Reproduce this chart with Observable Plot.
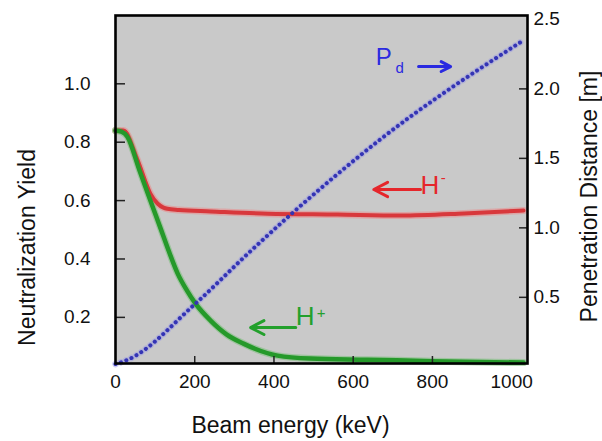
<!DOCTYPE html>
<html><head><meta charset="utf-8">
<script src="https://cdn.jsdelivr.net/npm/d3@7"></script>
<script src="https://cdn.jsdelivr.net/npm/@observablehq/plot@0.6"></script>
<style>body{margin:0;background:#fff}</style>
</head><body><div id="chart"></div>
<script>
// ---- data ----
const energyHminus = [0, 20, 56, 88, 106, 121, 131, 160, 240, 384, 560, 720, 880, 1030];
const yieldHminus  = [0.84, 0.84, 0.737, 0.624, 0.59, 0.576, 0.572, 0.568, 0.563, 0.555, 0.552, 0.549, 0.556, 0.566];
const energyHplus  = [0, 15, 30, 60, 88, 114, 134, 157, 179, 202, 240, 280, 323, 409, 492, 636, 800, 1030];
const yieldHplus   = [0.84, 0.836, 0.819, 0.706, 0.60, 0.504, 0.429, 0.35, 0.295, 0.247, 0.189, 0.142, 0.110, 0.069, 0.059, 0.055, 0.05, 0.045];
const energyPd     = [0, 30, 200, 340, 440, 670, 1030];
const distPd       = [0.02, 0.05, 0.45, 0.83, 1.09, 1.64, 2.35];

const xTicks = [0, 200, 400, 600, 800, 1000];
const xInnerTicks = [200, 400, 600, 800];
const yLeftTicks = [0.2, 0.4, 0.6, 0.8, 1.0];
const yRightTicks = [0.5, 1.0, 1.5, 2.0, 2.5];
const yRightInnerTicks = [0.5, 1.0, 1.5, 2.0];

const xTitle = "Beam energy (keV)";
const yLeftTitle = "Neutralization Yield";
const yRightTitle = "Penetration Distance [m]";

// ---- layout / styles ----
const W = 602, H = 441;
const marginLeft = 115, marginRight = 75, marginTop = 15, marginBottom = 78;
const xDomain = [0, 1040];
const yLeftDomain = [0.042, 1.234];
const yRightDomain = [0.024, 2.528];
const toLeft = p => yLeftDomain[0] + (p - yRightDomain[0]) * (yLeftDomain[1] - yLeftDomain[0]) / (yRightDomain[1] - yRightDomain[0]);
const fromLeft = v => yRightDomain[0] + (v - yLeftDomain[0]) * (yRightDomain[1] - yRightDomain[0]) / (yLeftDomain[1] - yLeftDomain[0]);
const pxPerX = (W - marginLeft - marginRight) / (xDomain[1] - xDomain[0]);
const pxPerY = (H - marginTop - marginBottom) / (yLeftDomain[1] - yLeftDomain[0]);

const RED = "#d8383c", GREEN = "#25992a", BLUE = "#3434b4";
const TXT_RED = "#e5262b", TXT_GREEN = "#23a02c", TXT_BLUE = "#2a2ae0";

const hminus = energyHminus.map((e, i) => ({energy: e, value: yieldHminus[i]}));
const hplus = energyHplus.map((e, i) => ({energy: e, value: yieldHplus[i]}));
const pd = energyPd.map((e, i) => ({energy: e, value: distPd[i]}));

const annotations = [
  {text: "P", x: 657, y: 1.09, color: TXT_BLUE, size: 24},
  {text: "d", x: 707, y: 1.052, color: TXT_BLUE, size: 15},
  {text: "H", x: 770, y: 0.651, color: TXT_RED, size: 26},
  {text: "-", x: 821, y: 0.678, color: TXT_RED, size: 15},
  {text: "H", x: 455, y: 0.203, color: TXT_GREEN, size: 26},
  {text: "+", x: 508, y: 0.215, color: TXT_GREEN, size: 15}
];
const arrows = [
  {x1: 765, x2: 846, y: 1.059, color: TXT_BLUE},
  {x1: 770, x2: 652, y: 0.638, color: TXT_RED},
  {x1: 455, x2: 341, y: 0.165, color: TXT_GREEN}
];

const font = "'Liberation Sans', Arial, sans-serif";

const chart = Plot.plot({
  width: W, height: H,
  marginLeft, marginRight, marginTop, marginBottom,
  style: {fontFamily: font, color: "#111", background: "#fff"},
  x: {domain: xDomain},
  y: {domain: yLeftDomain},
  marks: [
    Plot.frame({fill: "#c9c9c9"}),
    // halos
    Plot.line(pd, {x: "energy", y: d => toLeft(d.value), stroke: "#9a9ae6", strokeOpacity: 0.5, strokeWidth: 6.5, strokeDasharray: "0.1 5.6", strokeLinecap: "round", curve: "monotone-x"}),
    Plot.line(hminus, {x: "energy", y: "value", stroke: "#e89090", strokeOpacity: 0.6, strokeWidth: 7, curve: "monotone-x"}),
    Plot.line(hplus, {x: "energy", y: "value", stroke: "#80c080", strokeOpacity: 0.6, strokeWidth: 7, curve: "monotone-x"}),
    // lines
    Plot.line(hminus, {x: "energy", y: "value", stroke: RED, strokeWidth: 4, curve: "monotone-x"}),
    Plot.line(hplus, {x: "energy", y: "value", stroke: GREEN, strokeWidth: 4.5, curve: "monotone-x"}),
    Plot.line(pd, {x: "energy", y: d => toLeft(d.value), stroke: BLUE, strokeWidth: 4, strokeDasharray: "0.1 5.6", strokeLinecap: "round", curve: "monotone-x"}),
    // annotations
    ...arrows.map(a => Plot.arrow([a], {x1: "x1", x2: "x2", y1: "y", y2: "y", stroke: a.color, strokeWidth: 3, headLength: 9, headAngle: 55})),
    ...annotations.map(a => Plot.text([a], {x: "x", y: "y", text: "text", fill: a.color, fontSize: a.size, textAnchor: "start", lineAnchor: "middle"})),
    // inner tick marks
    Plot.ruleX(xInnerTicks, {x: d => d, y1: yLeftDomain[0], y2: yLeftDomain[0] + 7 / pxPerY, stroke: "#222", strokeWidth: 1.5}),
    Plot.ruleY(yLeftTicks, {y: d => d, x1: xDomain[0], x2: xDomain[0] + 10 / pxPerX, stroke: "#222", strokeWidth: 1.5}),
    Plot.ruleY(yRightInnerTicks.map(toLeft), {y: d => d, x1: xDomain[1] - 8 / pxPerX, x2: xDomain[1], stroke: "#222", strokeWidth: 1.5}),
    // axes labels
    Plot.axisX({ticks: xTicks, tickSize: 0, tickPadding: 11, fontSize: 19, label: null, tickFormat: d => String(d)}),
    Plot.axisY({ticks: yLeftTicks, tickSize: 0, tickPadding: 25, fontSize: 19, label: null, tickFormat: d3.format(".1f")}),
    Plot.axisY({anchor: "right", ticks: yRightTicks.map(toLeft), tickSize: 0, tickPadding: 6, fontSize: 19, label: null, tickFormat: v => fromLeft(v).toFixed(1)}),
    Plot.frame({stroke: "#000", strokeWidth: 2.6}),
    // titles
    Plot.text([xTitle], {frameAnchor: "bottom", text: d => d, dx: -31, dy: 62, fontSize: 23, textAnchor: "middle", lineAnchor: "middle", fill: "#111"}),
    Plot.text([yLeftTitle], {frameAnchor: "left", text: d => d, rotate: -90, dx: -88, dy: 58, fontSize: 23, textAnchor: "middle", lineAnchor: "middle", fill: "#111"}),
    Plot.text([yRightTitle], {frameAnchor: "right", text: d => d, rotate: -90, dx: 62, dy: 7, fontSize: 23, textAnchor: "middle", lineAnchor: "middle", fill: "#111"})
  ]
});
document.getElementById("chart").appendChild(chart);
</script>
</body></html>
